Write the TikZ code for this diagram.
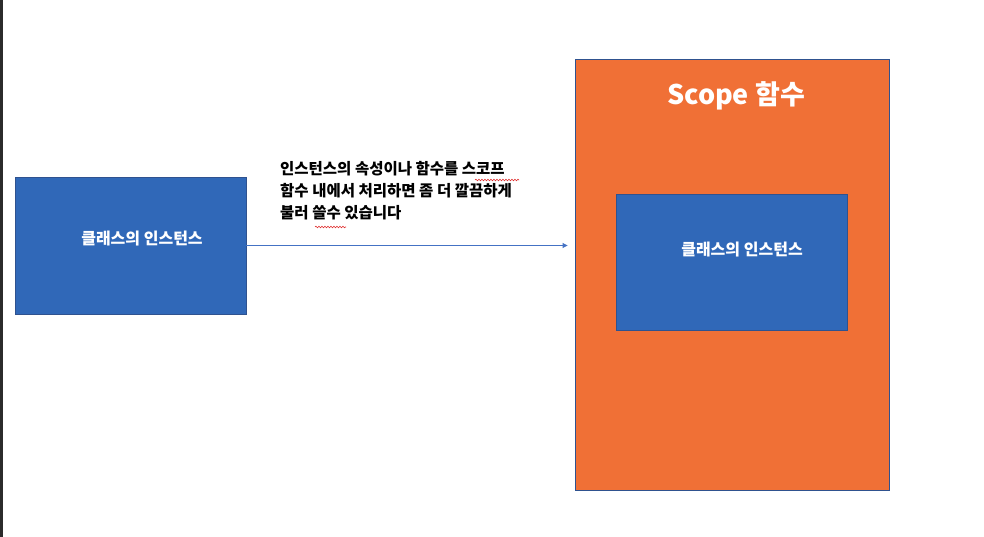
\documentclass[tikz,border=0pt]{standalone}
\usepackage{fontspec}
\usepackage{tikz}
\usetikzlibrary{positioning, arrows.meta, decorations.pathmorphing}
\newfontfamily\krfont{Noto Sans CJK KR}[BoldFont={Noto Sans CJK KR Black}]
\definecolor{instblue}{HTML}{3068B8}
\definecolor{instedge}{HTML}{2F528F}
\definecolor{scopeorange}{HTML}{F07036}
\definecolor{linkblue}{HTML}{4472C4}
\definecolor{frameleft}{HTML}{2B2B2B}
\definecolor{spellred}{HTML}{E03030}
\tikzset{
  instbox/.style={draw=instedge, line width=0.9pt, fill=instblue, inner sep=0pt},
  scopebox/.style={draw=instedge, line width=0.9pt, fill=scopeorange, inner sep=0pt},
  boxlabel/.style={text=white, font=\krfont\bfseries\fontsize{16}{17}\selectfont, inner sep=0pt},
  titlelabel/.style={text=white, font=\krfont\bfseries\fontsize{27}{30}\selectfont, inner sep=0pt},
  notelabel/.style={text=black, align=left, font=\krfont\bfseries\fontsize{15.5}{22}\selectfont, inner sep=0pt},
  arrow/.style={-{Triangle[length=5pt, width=5pt]}, line width=0.9pt, draw=linkblue},
  squiggle/.style={draw=spellred, line width=0.6pt, decorate, decoration={snake, amplitude=0.8pt, segment length=3pt}},
}
\begin{document}
\begin{tikzpicture}[x=1pt, y=-1pt]
  \useasboundingbox (0,0) rectangle (984,537);
  \fill[white] (0,0) rectangle (984,537);
  % window edge
  \fill[frameleft] (0,0) rectangle (2.5,537);

  % instance of the class
  \node[instbox, minimum width=231pt, minimum height=137pt] (inst) at (130.5,245.5) {};
  \node[boxlabel] (instlabel) at (142,239) {클래스의 인스턴스};

  % scope function
  \node[scopebox, minimum width=314pt, minimum height=431pt] (scope) at (732,274.5) {};
  \node[titlelabel] (scopetitle) at (736,96) {Scope 함수};
  \node[instbox, minimum width=231pt, minimum height=136pt] (inner) at (731.5,262) {};
  \node[boxlabel] (innerlabel) at (742,250) {클래스의 인스턴스};

  % note above the arrow
  \node[notelabel, anchor=north west] (note) at (280,161)
    {인스턴스의 속성이나 함수를 스코프\\
     함수 내에서 처리하면 좀 더 깔끔하게\\
     불러 쓸수 있습니다};

  % Edges
  \draw[arrow, shorten >=7pt] (inst.east) -- (inst.east -| scope.west);

  % spell-check marks
  \draw[squiggle] (475,180) -- (519,180);
  \draw[squiggle] (315,227) -- (346,227);
\end{tikzpicture}
\end{document}
